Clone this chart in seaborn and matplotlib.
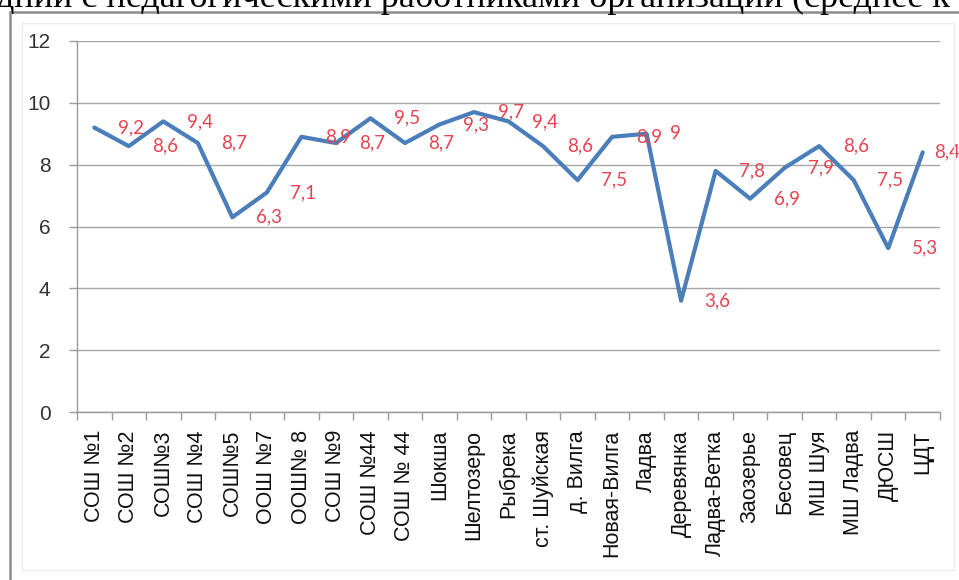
import matplotlib
matplotlib.use("Agg")
import matplotlib.pyplot as plt
import matplotlib.patches as mpatches
from matplotlib.ticker import FixedLocator, NullFormatter
import seaborn as sns
import pandas as pd

categories = ["СОШ №1", "СОШ №2", "СОШ№3", "СОШ №4", "СОШ№5", "ООШ №7", "ООШ№ 8",
              "СОШ №9", "СОШ №44", "СОШ № 44", "Шокша", "Шелтозеро", "Рыбрека",
              "ст. Шуйская", "д. Вилга", "Новая-Вилга", "Ладва", "Деревянка",
              "Ладва-Ветка", "Заозерье", "Бесовец", "МШ Шуя", "МШ Ладва", "ДЮСШ", "ЦДТ"]
values = [9.2, 8.6, 9.4, 8.7, 6.3, 7.1, 8.9, 8.7, 9.5, 8.7, 9.3, 9.7, 9.4,
          8.6, 7.5, 8.9, 9.0, 3.6, 7.8, 6.9, 7.9, 8.6, 7.5, 5.3, 8.4]
value_labels = ["9,2", "8,6", "9,4", "8,7", "6,3", "7,1", "8,9", "8,7", "9,5", "8,7",
                "9,3", "9,7", "9,4", "8,6", "7,5", "8,9", "9", "3,6", "7,8", "6,9",
                "7,9", "8,6", "7,5", "5,3", "8,4"]
y_ticks = [0, 2, 4, 6, 8, 10, 12]
title_text = "дний с педагогическими работниками организации (среднее к"

sns.set_theme(style="white")
plt.rcParams['font.family'] = ['Liberation Sans', 'DejaVu Sans']

df = pd.DataFrame({"cat": categories, "val": values})

W, H = 959, 580
fig = plt.figure(figsize=(W / 100, H / 100), dpi=100)
fig.patch.set_facecolor("white")

# outer chart frame
frame = mpatches.Rectangle((10 / W, -0.05), 1.2, (H - 12) / H + 0.05,
                           transform=fig.transFigure, fill=False,
                           edgecolor="#8c8c8c", linewidth=1.8, zorder=0)
fig.patches.append(frame)
inner = mpatches.Rectangle((22 / W, (H - 570) / H), (954 - 22) / W, (570 - 23) / H,
                           transform=fig.transFigure, fill=False,
                           edgecolor="#ececec", linewidth=1.0, zorder=0)
fig.patches.append(inner)

fig.text(-0.004, 1 - 7 / H, title_text, family="Liberation Serif", fontsize=26,
         color="black", ha="left", va="baseline")

ax = fig.add_axes([77 / W, 1 - 412 / H, (940 - 77) / W, (412 - 41) / H])
ax.set_facecolor("none")

sns.lineplot(data=df, x="cat", y="val", ax=ax, color="#4A7EBB", linewidth=3.0,
             sort=False, zorder=3)

n = len(categories)
for i, (v, lab) in enumerate(zip(values, value_labels)):
    dx = 17 if i < n - 1 else 8
    ax.annotate(lab, (i, v), xytext=(dx, 0), textcoords="offset points",
                ha="left", va="center", color="#E8434F", fontsize=13.5,
                family=["Lato", "DejaVu Sans"], zorder=4, annotation_clip=False)

ax.set_xlim(-0.5, n - 0.5)
ax.set_ylim(0, 12)
ax.set_yticks(y_ticks)
ax.set_yticklabels([str(t) for t in y_ticks], fontsize=15, color="#333333")
ax.set_xticks(range(n))
ax.set_xticklabels(categories, rotation=90, fontsize=15.5, color="#111111")
ax.tick_params(axis="x", which="major", length=0, pad=13)
ax.xaxis.set_minor_locator(FixedLocator([i - 0.5 for i in range(n + 1)]))
ax.xaxis.set_minor_formatter(NullFormatter())
ax.tick_params(axis="x", which="minor", length=6, width=1, color="#9a9a9a", bottom=True)
ax.tick_params(axis="y", which="major", length=6, width=1, color="#9a9a9a", left=True, pad=13)

ax.yaxis.grid(True, color="#a6a6a6", linewidth=1.0)
ax.xaxis.grid(False)
ax.set_axisbelow(True)
for s in ["top", "right"]:
    ax.spines[s].set_visible(False)
for s in ["left", "bottom"]:
    ax.spines[s].set_color("#9a9a9a")
    ax.spines[s].set_linewidth(1.0)
ax.set_xlabel("")
ax.set_ylabel("")

fig.savefig("out.png", dpi=100)
